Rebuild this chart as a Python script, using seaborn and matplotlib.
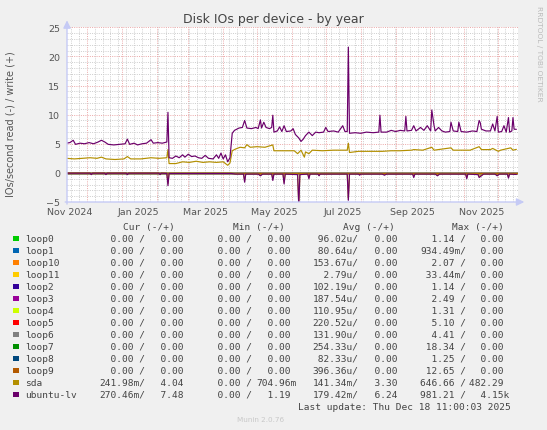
"""
Munin style chart: Disk IOs per device - by year
"""

import matplotlib
matplotlib.use("Agg")
import matplotlib.pyplot as plt
import matplotlib.dates as mdates
from matplotlib.patches import Rectangle
from matplotlib.ticker import MultipleLocator, NullFormatter
import numpy as np
import pandas as pd
import seaborn as sns

W, H = 547, 431

# ubuntu-lv writes (+)
lv_write_dates = [
    "2024-11-13", "2024-11-16", "2024-11-19", "2024-11-21", "2024-11-25", "2024-11-29",
    "2024-12-03", "2024-12-07", "2024-12-11", "2024-12-14", "2024-12-17", "2024-12-20",
    "2024-12-25", "2024-12-30", "2025-01-04", "2025-01-06", "2025-01-08", "2025-01-12",
    "2025-01-15", "2025-01-19", "2025-01-23", "2025-01-27", "2025-01-29", "2025-02-02",
    "2025-02-06", "2025-02-10", "2025-02-11", "2025-02-12", "2025-02-15", "2025-02-18",
    "2025-02-21", "2025-02-24", "2025-02-26", "2025-03-01", "2025-03-04", "2025-03-07",
    "2025-03-10", "2025-03-13", "2025-03-16", "2025-03-19", "2025-03-23", "2025-03-26",
    "2025-03-28", "2025-03-30", "2025-04-01", "2025-04-03", "2025-04-05", "2025-04-07",
    "2025-04-09", "2025-04-11", "2025-04-15", "2025-04-18", "2025-04-20", "2025-04-22",
    "2025-04-26", "2025-04-30", "2025-05-02", "2025-05-04", "2025-05-05", "2025-05-07",
    "2025-05-09", "2025-05-12", "2025-05-14", "2025-05-15", "2025-05-16", "2025-05-19",
    "2025-05-21", "2025-05-23", "2025-05-25", "2025-05-27", "2025-05-31", "2025-06-02",
    "2025-06-04", "2025-06-07", "2025-06-09", "2025-06-11", "2025-06-13", "2025-06-16",
    "2025-06-19", "2025-06-22", "2025-06-25", "2025-06-29", "2025-07-01", "2025-07-03",
    "2025-07-08", "2025-07-12", "2025-07-16", "2025-07-18", "2025-07-20", "2025-07-21",
    "2025-07-22", "2025-07-27", "2025-08-01", "2025-08-06", "2025-08-12", "2025-08-17",
    "2025-08-18", "2025-08-19", "2025-08-24", "2025-08-28", "2025-09-01", "2025-09-05",
    "2025-09-09", "2025-09-10", "2025-09-11", "2025-09-15", "2025-09-17", "2025-09-19",
    "2025-09-23", "2025-09-26", "2025-09-29", "2025-10-02", "2025-10-03", "2025-10-05",
    "2025-10-06", "2025-10-09", "2025-10-12", "2025-10-15", "2025-10-19", "2025-10-20",
    "2025-10-22", "2025-10-26", "2025-10-27", "2025-10-29", "2025-11-03", "2025-11-08",
    "2025-11-12", "2025-11-14", "2025-11-15", "2025-11-16", "2025-11-20", "2025-11-24",
    "2025-11-26", "2025-11-28", "2025-11-30", "2025-12-01", "2025-12-04", "2025-12-06",
    "2025-12-08", "2025-12-10", "2025-12-11", "2025-12-13", "2025-12-14", "2025-12-15",
    "2025-12-17",
]
lv_write = [
    5.1, 5.2, 5.6, 4.9, 5.1, 5.0,
    5.2, 5.0, 5.3, 5.6, 5.3, 4.9,
    4.8, 4.9, 5.0, 5.8, 4.9, 5.1,
    4.8, 5.0, 5.1, 5.7, 5.1, 5.2,
    5.1, 5.3, 10.4, 2.6, 2.5, 2.9,
    2.6, 3.1, 2.7, 3.2, 2.8, 2.9,
    2.6, 2.5, 3.0, 2.5, 2.4, 3.1,
    2.5, 3.4, 2.4, 3.1, 1.9, 2.6,
    6.8, 7.3, 7.7, 7.8, 9.0, 7.7,
    7.6, 7.8, 7.6, 9.1, 7.7, 8.7,
    7.8, 7.6, 7.8, 9.9, 7.0, 7.2,
    7.9, 7.1, 8.1, 7.1, 7.2, 7.6,
    6.6, 6.0, 5.4, 5.8, 6.4, 7.0,
    6.4, 7.0, 6.9, 7.0, 7.8, 7.1,
    7.2, 7.0, 8.1, 7.1, 7.1, 21.6,
    6.8, 6.9, 6.8, 7.0, 6.9, 7.0,
    9.9, 7.0, 7.0, 7.3, 7.1, 7.3,
    7.2, 9.7, 7.2, 7.3, 8.1, 7.2,
    7.8, 7.3, 8.1, 7.2, 10.8, 8.1,
    7.2, 7.8, 7.2, 7.0, 7.1, 8.7,
    7.2, 7.1, 8.7, 7.1, 7.0, 7.2,
    7.1, 9.0, 8.6, 7.5, 7.2, 7.2,
    8.4, 7.2, 9.7, 7.0, 7.1, 8.1,
    7.0, 9.5, 7.0, 7.2, 9.5, 7.5,
    7.48,
]

# sda writes (+)
sda_write_dates = [
    "2024-11-13", "2024-11-20", "2024-11-27", "2024-12-04", "2024-12-10", "2024-12-14",
    "2024-12-18", "2024-12-26", "2025-01-03", "2025-01-06", "2025-01-09", "2025-01-18",
    "2025-01-27", "2025-02-03", "2025-02-10", "2025-02-11", "2025-02-12", "2025-02-18",
    "2025-02-24", "2025-03-02", "2025-03-08", "2025-03-14", "2025-03-20", "2025-03-26",
    "2025-04-01", "2025-04-05", "2025-04-07", "2025-04-09", "2025-04-12", "2025-04-16",
    "2025-04-20", "2025-04-22", "2025-04-25", "2025-05-01", "2025-05-08", "2025-05-15",
    "2025-05-16", "2025-05-25", "2025-06-03", "2025-06-06", "2025-06-09", "2025-06-12",
    "2025-06-13", "2025-06-16", "2025-06-19", "2025-06-28", "2025-07-08", "2025-07-18",
    "2025-07-20", "2025-07-21", "2025-07-22", "2025-07-30", "2025-08-10", "2025-08-20",
    "2025-08-28", "2025-09-05", "2025-09-15", "2025-09-17", "2025-09-25", "2025-10-03",
    "2025-10-05", "2025-10-20", "2025-10-22", "2025-11-06", "2025-11-14", "2025-11-16",
    "2025-11-24", "2025-11-26", "2025-12-01", "2025-12-03", "2025-12-12", "2025-12-14",
    "2025-12-17",
]
sda_write = [
    2.5, 2.4, 2.5, 2.6, 2.5, 2.7,
    2.4, 2.3, 2.4, 2.8, 2.4, 2.4,
    2.6, 2.5, 2.6, 4.0, 1.6, 1.6,
    1.9, 1.8, 2.0, 1.8, 1.9, 1.8,
    1.9, 1.3, 1.7, 3.8, 4.1, 4.4,
    4.3, 4.85, 4.4, 4.5, 4.4, 4.8,
    3.8, 3.8, 3.8, 3.3, 3.9, 2.7,
    3.6, 3.3, 3.9, 3.8, 3.9, 3.9,
    3.9, 5.1, 3.5, 3.7, 3.7, 3.7,
    3.8, 3.8, 3.9, 4.0, 3.9, 4.4,
    3.9, 4.3, 3.9, 3.9, 4.5, 4.0,
    4.0, 4.2, 3.7, 3.9, 4.3, 3.9,
    4.04,
]

# reads (-), stored as positive rates
read_dates = [
    "2024-11-13", "2024-12-04", "2024-12-05", "2024-12-06", "2024-12-17", "2024-12-18",
    "2024-12-19", "2025-01-05", "2025-01-06", "2025-01-07", "2025-02-03", "2025-02-04",
    "2025-02-05", "2025-02-10", "2025-02-11", "2025-02-12", "2025-04-08", "2025-04-12",
    "2025-04-19", "2025-04-20", "2025-04-21", "2025-05-02", "2025-05-04", "2025-05-06",
    "2025-05-14", "2025-05-15", "2025-05-16", "2025-05-24", "2025-05-25", "2025-05-26",
    "2025-06-06", "2025-06-07", "2025-06-08", "2025-06-15", "2025-06-16", "2025-06-17",
    "2025-06-24", "2025-06-25", "2025-06-26", "2025-07-20", "2025-07-21", "2025-07-22",
    "2025-07-30", "2025-07-31", "2025-08-01", "2025-08-20", "2025-08-22", "2025-08-24",
    "2025-09-16", "2025-09-17", "2025-09-18", "2025-10-06", "2025-10-08", "2025-10-10",
    "2025-11-02", "2025-11-03", "2025-11-04", "2025-11-13", "2025-11-14", "2025-11-16",
    "2025-11-18", "2025-11-28", "2025-11-30", "2025-12-02", "2025-12-09", "2025-12-10",
    "2025-12-11", "2025-12-17",
]
lv_read = [
    0.05, 0.05, 0.3, 0.05, 0.05, 0.3,
    0.05, 0.05, 0.3, 0.05, 0.05, 0.3,
    0.05, 0.1, 2.2, 0.1, 0.1, 0.2,
    0.2, 1.6, 0.2, 0.2, 0.5, 0.2,
    0.2, 1.3, 0.2, 0.2, 1.9, 0.2,
    0.3, 5.6, 0.3, 0.2, 1.0, 0.2,
    0.2, 0.5, 0.2, 0.2, 4.7, 0.2,
    0.2, 0.4, 0.2, 0.2, 0.4, 0.2,
    0.2, 0.8, 0.2, 0.2, 0.5, 0.2,
    0.2, 1.0, 0.2, 0.3, 0.8, 0.5,
    0.2, 0.2, 0.5, 0.2, 0.2, 0.9,
    0.2, 0.27,
]
sda_read = [
    0.03, 0.03, 0.2, 0.03, 0.03, 0.2,
    0.03, 0.03, 0.2, 0.03, 0.03, 0.2,
    0.03, 0.05, 1.8, 0.05, 0.05, 0.15,
    0.15, 1.3, 0.15, 0.15, 0.4, 0.15,
    0.15, 1.0, 0.15, 0.15, 1.6, 0.15,
    0.2, 5.4, 0.2, 0.15, 0.8, 0.15,
    0.15, 0.4, 0.15, 0.15, 4.4, 0.15,
    0.15, 0.3, 0.15, 0.15, 0.3, 0.15,
    0.15, 0.6, 0.15, 0.15, 0.4, 0.15,
    0.15, 0.8, 0.15, 0.2, 0.6, 0.4,
    0.15, 0.15, 0.4, 0.15, 0.15, 0.7,
    0.15, 0.24,
]

# legend table
names = ["loop0", "loop1", "loop10", "loop11", "loop2", "loop3", "loop4",
         "loop5", "loop6", "loop7", "loop8", "loop9", "sda", "ubuntu-lv"]
colors = ["#00CC00", "#0066B3", "#FF8000", "#FFCC00", "#330099", "#990099", "#CCFF00",
          "#FF0000", "#808080", "#008F00", "#00487D", "#B35A00", "#B38F00", "#6B006B"]
cur_read = [0, 0, 0, 0, 0, 0, 0, 0, 0, 0, 0, 0, 0.24198, 0.27046]
cur_write = [0, 0, 0, 0, 0, 0, 0, 0, 0, 0, 0, 0, 4.04, 7.48]
min_read = [0, 0, 0, 0, 0, 0, 0, 0, 0, 0, 0, 0, 0, 0]
min_write = [0, 0, 0, 0, 0, 0, 0, 0, 0, 0, 0, 0, 0.70496, 1.19]
avg_read = [96.02e-6, 80.64e-6, 153.67e-6, 2.79e-6, 102.19e-6, 187.54e-6, 110.95e-6,
            220.52e-6, 131.90e-6, 254.33e-6, 82.33e-6, 396.36e-6, 0.14134, 0.17942]
avg_write = [0, 0, 0, 0, 0, 0, 0, 0, 0, 0, 0, 0, 3.30, 6.24]
max_read = [1.14, 0.93449, 2.07, 0.03344, 1.14, 2.49, 1.31,
            5.10, 4.41, 18.34, 1.25, 12.65, 646.66, 981.21]
max_write = [0, 0, 0, 0, 0, 0, 0, 0, 0, 0, 0, 0, 482.29, 4150.0]

x_label_dates = ["2024-11-16", "2025-01-16", "2025-03-16", "2025-05-16",
                 "2025-07-16", "2025-09-16", "2025-11-16"]


def si(v):
    """rrdtool style %6.2lf%s"""
    if v == 0:
        return f"{0:6.2f} "
    for factor, prefix in ((1e3, "k"), (1.0, " "), (1e-3, "m"), (1e-6, "u")):
        if abs(v) >= factor:
            return f"{v / factor:6.2f}{prefix}"
    return f"{v:6.2f} "


def draw(ax, dates, values, color, lw=0.85):
    df = pd.DataFrame({"date": pd.to_datetime(dates), "value": values})
    sns.lineplot(data=df, x="date", y="value", color=color, linewidth=lw,
                 estimator=None, ax=ax)


sns.set_style("white")
plt.rcParams["font.family"] = ["DejaVu Sans"]

fig = plt.figure(figsize=(W / 100, H / 100), dpi=100, facecolor="#F0F0F0")
ax = fig.add_axes([67 / W, 1 - 203 / H, 451 / W, 174.7 / H])
ax.set_facecolor("white")

start = pd.Timestamp("2024-11-13 11:00")
end = pd.Timestamp("2025-12-18 11:00")

# loop devices are flat at zero
for c in colors[:12]:
    draw(ax, [start, end], [0.0, 0.0], c)
ax.axhline(0, color="black", linewidth=0.9, zorder=1.5)

draw(ax, sda_write_dates, sda_write, colors[12])
draw(ax, read_dates, -np.array(sda_read), colors[12])
draw(ax, lv_write_dates, lv_write, colors[13])
draw(ax, read_dates, -np.array(lv_read), colors[13])

ax.set_xlim(start, end)
ax.set_ylim(-5, 25)
ax.set_xlabel("")
ax.set_ylabel("")

ax.xaxis.set_major_locator(mdates.MonthLocator())
ax.xaxis.set_minor_locator(mdates.WeekdayLocator(byweekday=mdates.SU))
ax.xaxis.set_major_formatter(NullFormatter())
ax.yaxis.set_major_locator(MultipleLocator(5))
ax.yaxis.set_minor_locator(MultipleLocator(1))
ax.set_axisbelow(True)
ax.grid(which="minor", color="#CDCDCD", linewidth=0.7, linestyle=(0, (1, 1.3)))
ax.grid(which="major", color="#EBA8A8", linewidth=0.7, linestyle=(0, (1, 1.3)))
ax.tick_params(which="both", length=0)
ax.tick_params(axis="y", labelsize=6.8, labelcolor="#555555", pad=5)
for s in ax.spines.values():
    s.set_visible(False)

for d in x_label_dates:
    ts = pd.Timestamp(d)
    ax.text(mdates.date2num(ts), -0.053, ts.strftime("%b %Y"),
            transform=ax.get_xaxis_transform(), ha="center", va="center",
            fontsize=6.8, color="#555555")

# axes with arrow heads
axis_color = "#C5CAF5"
ax.annotate("", xy=(1.014, 0), xytext=(-0.004, 0), xycoords="axes fraction",
            arrowprops=dict(arrowstyle="-|>,head_length=0.45,head_width=0.22",
                            color=axis_color, lw=1, shrinkA=0, shrinkB=0),
            annotation_clip=False)
ax.annotate("", xy=(0, 1.04), xytext=(0, -0.012), xycoords="axes fraction",
            arrowprops=dict(arrowstyle="-|>,head_length=0.45,head_width=0.22",
                            color=axis_color, lw=1, shrinkA=0, shrinkB=0),
            annotation_clip=False)

fig.text(273.5 / W, 1 - 19.3 / H, "Disk IOs per device - by year",
         ha="center", va="center", fontsize=9, color="#444444")
fig.text(11 / W, 1 - 124.5 / H, "IOs/second read (-) / write (+)",
         rotation=90, ha="center", va="center", fontsize=7, color="#555555")
fig.text(539 / W, 1 - 54 / H, "RRDTOOL / TOBI OETIKER", rotation=270,
         ha="center", va="center", fontsize=5.4, color="#BBBBBB")

# legend table
mono = dict(family="DejaVu Sans Mono", fontsize=6.82, color="#444444", va="center")
headers = ["Cur (-/+)", "Min (-/+)", "Avg (-/+)", "Max (-/+)"]
header_x = [123, 232.7, 342.7, 451.7]
f1_x = [99.4, 206.4, 312.4, 420.4]
f2_x = [149, 256, 362.8, 469]
for h, hx in zip(headers, header_x):
    fig.text(hx / W, 1 - 227.7 / H, h, **mono)

for i, name in enumerate(names):
    y = 239.3 + 12.0 * i
    fig.add_artist(Rectangle((13.3 / W, 1 - (y + 2.8) / H), 5.5 / W, 5.5 / H,
                             transform=fig.transFigure, facecolor=colors[i],
                             edgecolor="none"))
    fig.text(25 / W, 1 - y / H, name, **mono)
    pairs = [(cur_read[i], cur_write[i]), (min_read[i], min_write[i]),
             (avg_read[i], avg_write[i]), (max_read[i], max_write[i])]
    for (r, w), x1, x2 in zip(pairs, f1_x, f2_x):
        fig.text(x1 / W, 1 - y / H, si(r) + "/", **mono)
        fig.text(x2 / W, 1 - y / H, si(w), **mono)

fig.text(298 / W, 1 - 407.7 / H, "Last update: Thu Dec 18 11:00:03 2025", **mono)
fig.text(261 / W, 1 - 419.7 / H, "Munin 2.0.76", ha="center", va="center",
         fontsize=5.2, color="#C8C8C8")

fig.savefig("out.png", dpi=100, facecolor=fig.get_facecolor())
